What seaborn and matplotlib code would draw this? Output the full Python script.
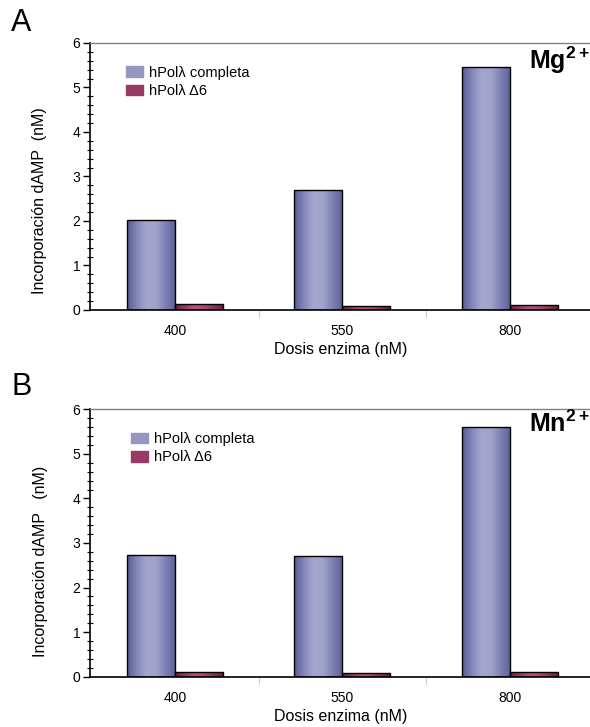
import numpy as np
import pandas as pd
import matplotlib
matplotlib.use("Agg")
import matplotlib.pyplot as plt
import seaborn as sns
from matplotlib.colors import LinearSegmentedColormap
from matplotlib.patches import Patch
from matplotlib.ticker import MultipleLocator, FixedLocator

# ---- data ----
doses = ["400", "550", "800"]
series = ["hPolλ completa", "hPolλ Δ6"]
mg_completa = [2.03, 2.70, 5.45]
mg_delta6 = [0.13, 0.09, 0.12]
mn_completa = [2.73, 2.71, 5.61]
mn_delta6 = [0.11, 0.08, 0.11]

sns.set_theme(style="white")
plt.rcParams['font.family'] = ['Liberation Sans', 'DejaVu Sans']
plt.rcParams['mathtext.fontset'] = 'custom'
plt.rcParams['mathtext.rm'] = 'Liberation Sans'
plt.rcParams['mathtext.bf'] = 'Liberation Sans:bold'
plt.rcParams['text.color'] = 'black'
plt.rcParams['axes.labelcolor'] = 'black'
plt.rcParams['xtick.color'] = 'black'
plt.rcParams['ytick.color'] = 'black'

blue_grad = LinearSegmentedColormap.from_list(
    "b", ["#575b92", "#8688bb", "#a4a6cd", "#a0a2ca", "#7d80b3", "#5c6096"])
red_grad = LinearSegmentedColormap.from_list(
    "r", ["#6e2244", "#953a62", "#b5517f", "#ab4876", "#8a3358", "#6a1f40"])
base_colors = {series[0]: "#9a9cc6", series[1]: "#9c3c68"}


def make_df(a, b):
    return pd.DataFrame({
        "dosis": doses * 2,
        "serie": [series[0]] * 3 + [series[1]] * 3,
        "valor": list(a) + list(b),
    })


fig = plt.figure(figsize=(5.9, 7.27), dpi=100)
axA = fig.add_axes([0.1525, 0.5736, 0.85, 0.3673])
axB = fig.add_axes([0.1525, 0.0692, 0.85, 0.3678])


def draw(ax, df, ion, ylabel, ylab_pos, leg_x):
    sns.barplot(data=df, x="dosis", y="valor", hue="serie", order=doses,
                hue_order=series, palette=base_colors, width=0.575, gap=0,
                edgecolor="black", linewidth=1.0, ax=ax, legend=False,
                errorbar=None, saturation=1)
    ax.set_xlim(-0.51, 2.49)
    ax.set_ylim(0, 6)
    xl, yl = ax.get_xlim(), ax.get_ylim()
    grad = np.linspace(0, 1, 64).reshape(1, -1)
    for p in list(ax.patches):
        w, h = p.get_width(), p.get_height()
        if w <= 0 or h <= 0:
            continue
        x0, y0 = p.get_x(), p.get_y()
        fc = p.get_facecolor()
        cmap = blue_grad if fc[2] > fc[0] else red_grad
        im = ax.imshow(grad, cmap=cmap, extent=[x0, x0 + w, y0, y0 + h],
                       aspect="auto", zorder=p.get_zorder() - 0.01,
                       interpolation="bicubic")
        im.set_clip_path(p)
        p.set_facecolor("none")
    ax.set_xlim(xl)
    ax.set_ylim(yl)
    ax.set_aspect("auto")

    ax.set_xlabel("Dosis enzima (nM)", fontsize=11.5, labelpad=3)
    ax.set_ylabel(ylabel, fontsize=11.5)
    ax.yaxis.set_label_coords(*ylab_pos)
    ax.yaxis.set_major_locator(MultipleLocator(1))
    ax.yaxis.set_minor_locator(MultipleLocator(0.2))
    ax.xaxis.set_minor_locator(FixedLocator([0.5, 1.5]))
    ax.tick_params(axis="y", which="major", direction="out", length=5,
                   width=1, color="black", labelsize=10, pad=2, left=True)
    ax.tick_params(axis="y", which="minor", direction="inout", length=4,
                   width=0.8, color="black", left=True)
    ax.tick_params(axis="x", which="major", length=0, labelsize=10, pad=10)
    ax.tick_params(axis="x", which="minor", direction="out", length=5,
                   width=0.8, color="#cccccc", bottom=True)
    for s in ["left", "bottom"]:
        ax.spines[s].set_color("black")
        ax.spines[s].set_linewidth(1.2)
    ax.spines["top"].set_color("#808080")
    ax.spines["top"].set_linewidth(1.0)
    ax.spines["right"].set_visible(False)

    handles = [Patch(facecolor="#9496c3", edgecolor="#9496c3"),
               Patch(facecolor="#983a64", edgecolor="#983a64")]
    ax.legend(handles, series, loc="upper left",
              bbox_to_anchor=(leg_x, 0.915),
              frameon=False, fontsize=10.5, handlelength=1.15,
              handleheight=0.75, handletextpad=0.45, labelspacing=0.3,
              borderpad=0, borderaxespad=0)
    ax.text(0.997, 0.995, ion, transform=ax.transAxes, ha="right", va="top",
            fontsize=18, fontweight="bold")


draw(axA, make_df(mg_completa, mg_delta6), r"$\mathbf{Mg^{2+}}$",
     "Incorporación dAMP  (nM)", (-0.086, 0.41), 0.072)
draw(axB, make_df(mn_completa, mn_delta6), r"$\mathbf{Mn^{2+}}$",
     "Incorporación dAMP   (nM)", (-0.084, 0.433), 0.082)

fig.text(11 / 590, 1 - 8 / 727, "A", fontsize=22, ha="left", va="top")
fig.text(11 / 590, 1 - 372 / 727, "B", fontsize=22, ha="left", va="top")

fig.savefig("out.png", dpi=100)
